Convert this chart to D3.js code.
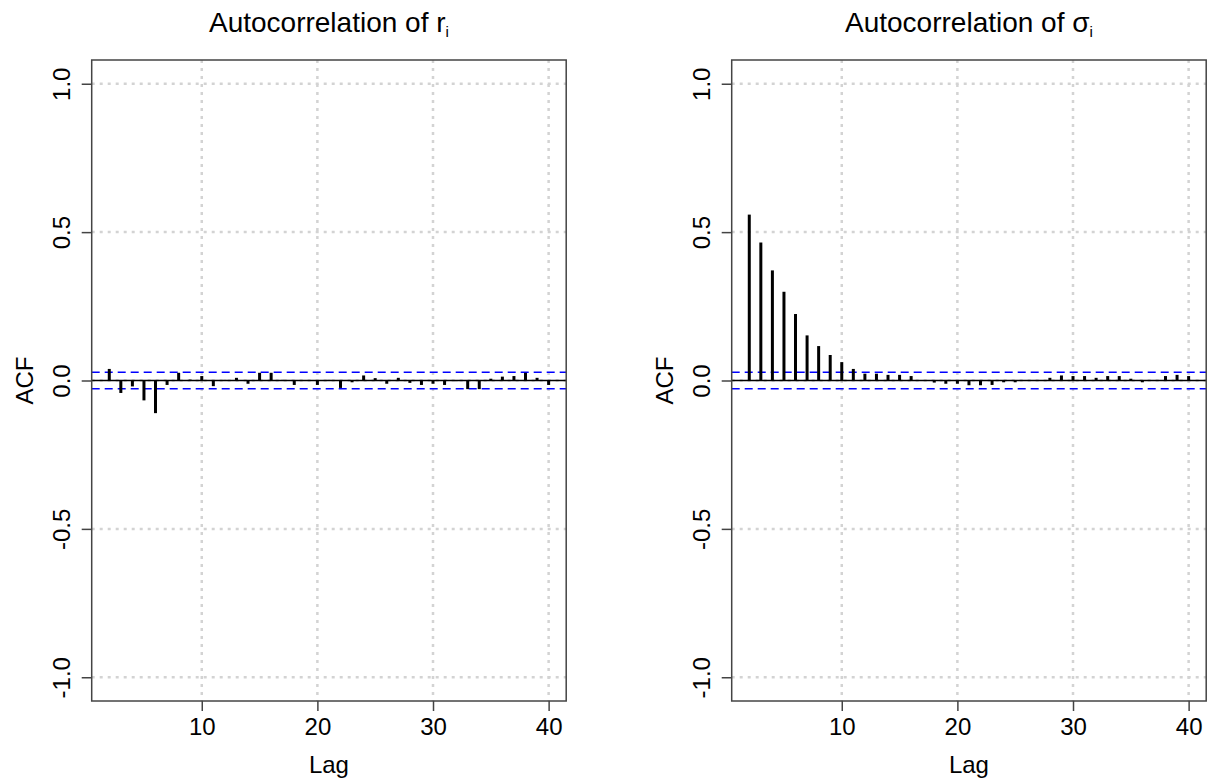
<!DOCTYPE html>
<html>
<head>
<meta charset="utf-8">
<script src="https://cdn.jsdelivr.net/npm/d3@7"></script>
<style>
  body { margin: 0; background: #fff; }
  text { font-family: "Liberation Sans", Arial, sans-serif; fill: #000; }
</style>
</head>
<body>
<div id="viz"></div>
<script>
// lags shown on both panels (lag 0 left out)
const lags = [2, 3, 4, 5, 6, 7, 8, 9, 10, 11, 12, 13, 14, 15, 16, 17, 18, 19, 20, 21,
              22, 23, 24, 25, 26, 27, 28, 29, 30, 31, 32, 33, 34, 35, 36, 37, 38, 39, 40];

// acf of the returns r_i
const acfReturns = [0.039, -0.042, -0.020, -0.067, -0.110, -0.015, 0.026, 0.003, 0.015, -0.019,
                    0.002, 0.009, -0.011, 0.026, 0.026, 0.002, -0.015, 0.001, -0.015, 0.002,
                    -0.025, -0.006, 0.017, 0.008, -0.011, 0.009, -0.008, -0.015, -0.011, -0.015,
                    -0.002, -0.029, -0.029, 0.006, 0.013, 0.015, 0.026, 0.009, -0.015];

// acf of the volatility sigma_i
const acfSigma = [0.559, 0.465, 0.371, 0.299, 0.224, 0.152, 0.116, 0.086, 0.062, 0.039,
                  0.023, 0.023, 0.019, 0.019, 0.015, 0.001, -0.007, -0.011, -0.011, -0.016,
                  -0.016, -0.015, -0.006, -0.006, 0.001, 0.001, 0.009, 0.017, 0.015, 0.015,
                  0.009, 0.015, 0.015, 0.006, -0.006, 0.001, 0.015, 0.019, 0.015];

// confidence bound (+/-)
const ciBound = 0.0277;

const xTicks = [10, 20, 30, 40];
const yTicks = [-1.0, -0.5, 0.0, 0.5, 1.0];

const width = 1211, height = 780;
const plotTop = 60, plotBottom = 701, plotWidth = 474.5;

const svg = d3.select("#viz")
  .append("svg")
    .attr("width", width)
    .attr("height", height);

const y = d3.scaleLinear()
  .domain([-1.08, 1.08])
  .range([plotBottom, plotTop]);

function drawPanel(left, values, titleMain, titleSymbol) {
  const x = d3.scaleLinear()
    .domain([0.48, 41.52])
    .range([0, plotWidth]);

  const g = svg.append("g")
    .attr("transform", `translate(${left}, 0)`);

  // dotted grid
  g.selectAll(".vgrid")
    .data(xTicks)
    .enter()
    .append("line")
      .attr("x1", d => x(d)).attr("x2", d => x(d))
      .attr("y1", plotTop).attr("y2", plotBottom)
      .attr("stroke", "#d3d3d3")
      .attr("stroke-width", 2.5)
      .attr("stroke-dasharray", "3,5");
  g.selectAll(".hgrid")
    .data(yTicks)
    .enter()
    .append("line")
      .attr("x1", 0).attr("x2", plotWidth)
      .attr("y1", d => y(d)).attr("y2", d => y(d))
      .attr("stroke", "#d3d3d3")
      .attr("stroke-width", 2.5)
      .attr("stroke-dasharray", "3,5");

  // zero line
  g.append("line")
    .attr("x1", 0).attr("x2", plotWidth)
    .attr("y1", y(0)).attr("y2", y(0))
    .attr("stroke", "#000")
    .attr("stroke-width", 1.5);

  // confidence bounds
  [ciBound, -ciBound].forEach(function(c) {
    g.append("line")
      .attr("x1", 0).attr("x2", plotWidth)
      .attr("y1", y(c)).attr("y2", y(c))
      .attr("stroke", "#0000ff")
      .attr("stroke-width", 1.5)
      .attr("stroke-dasharray", "8,5");
  });

  // acf spikes
  g.selectAll(".spike")
    .data(lags.map((l, i) => ({lag: l, v: values[i]})))
    .enter()
    .append("line")
      .attr("x1", d => x(d.lag)).attr("x2", d => x(d.lag))
      .attr("y1", y(0)).attr("y2", d => y(d.v))
      .attr("stroke", "#000")
      .attr("stroke-width", 3);

  // box
  g.append("rect")
    .attr("x", 0).attr("y", plotTop)
    .attr("width", plotWidth).attr("height", plotBottom - plotTop)
    .attr("fill", "none")
    .attr("stroke", "#444")
    .attr("stroke-width", 1.5);

  // x axis
  const xAxis = g.append("g")
    .attr("transform", `translate(0, ${plotBottom})`)
    .call(d3.axisBottom(x).tickValues(xTicks).tickSize(10).tickPadding(7).tickFormat(d3.format("d")));
  xAxis.select(".domain").remove();
  xAxis.selectAll("line").attr("stroke", "#444").attr("stroke-width", 1.5);
  xAxis.selectAll("text")
    .style("font-family", "'Liberation Sans', Arial, sans-serif")
    .style("font-size", "24px")
    .attr("fill", "#000");

  // y axis with rotated labels
  const yAxis = g.append("g")
    .call(d3.axisLeft(y).tickValues(yTicks).tickSize(10).tickFormat(d3.format(".1f")));
  yAxis.select(".domain").remove();
  yAxis.selectAll("line").attr("stroke", "#444").attr("stroke-width", 1.5);
  yAxis.selectAll("text")
    .attr("x", 0)
    .attr("dy", 0)
    .attr("text-anchor", "middle")
    .attr("transform", "translate(-22, 0) rotate(-90)")
    .style("font-family", "'Liberation Sans', Arial, sans-serif")
    .style("font-size", "24px")
    .attr("fill", "#000")
    .text(d => d3.format(".1f")(d).replace("−", "-"));

  // axis labels
  g.append("text")
    .attr("text-anchor", "middle")
    .attr("x", plotWidth / 2)
    .attr("y", 773)
    .style("font-size", "24px")
    .text("Lag");

  g.append("text")
    .attr("text-anchor", "middle")
    .attr("transform", `translate(-59, ${y(0)}) rotate(-90)`)
    .style("font-size", "24px")
    .text("ACF");

  // title with subscript
  const title = g.append("text")
    .attr("text-anchor", "middle")
    .attr("x", plotWidth / 2)
    .attr("y", 32)
    .style("font-size", "28px");
  title.append("tspan").text(titleMain);
  title.append("tspan").text(titleSymbol);
  title.append("tspan")
    .attr("dy", 5)
    .style("font-size", "15px")
    .text("i");
}

drawPanel(91.7, acfReturns, "Autocorrelation of ", "r");
drawPanel(731.7, acfSigma, "Autocorrelation of ", "σ");
</script>
</body>
</html>
